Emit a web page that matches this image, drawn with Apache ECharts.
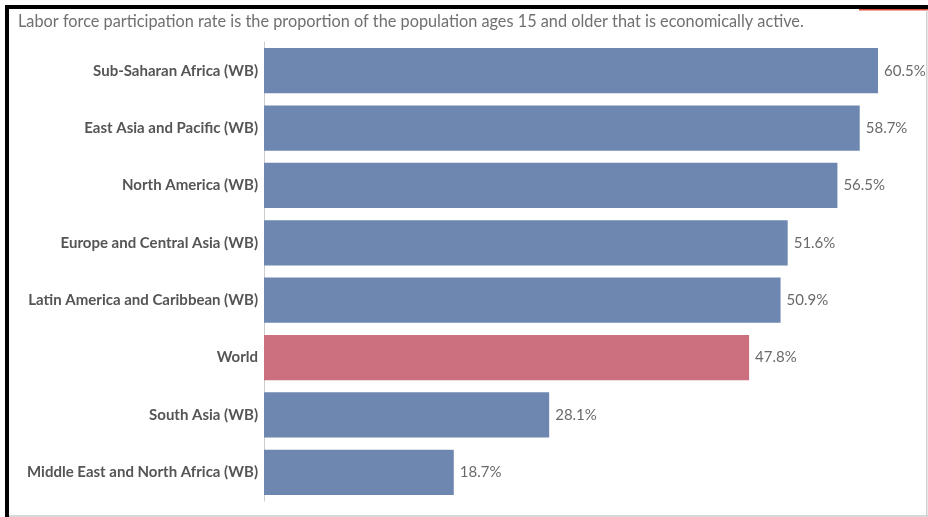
<!DOCTYPE html>
<html>
<head>
<meta charset="utf-8">
<script src="https://cdn.jsdelivr.net/npm/echarts@6/dist/echarts.min.js"></script>
<style>
html,body{margin:0;padding:0;background:#fff;}
#chart{width:928px;height:517px;}
</style>
</head>
<body>
<div id="chart"></div>
<script>
const titleText = 'Labor force participation rate is the proportion of the population ages 15 and older that is economically active.';
const categories = [
  'Sub-Saharan Africa (WB)',
  'East Asia and Pacific (WB)',
  'North America (WB)',
  'Europe and Central Asia (WB)',
  'Latin America and Caribbean (WB)',
  'World',
  'South Asia (WB)',
  'Middle East and North Africa (WB)'
];
const values = [60.5, 58.7, 56.5, 51.6, 50.9, 47.8, 28.1, 18.7];
const highlight = 'World';

const chart = echarts.init(document.getElementById('chart'), null, {renderer: 'canvas'});
const font = 'Lato, "Noto Sans", sans-serif';
chart.setOption({
  animation: false,
  backgroundColor: '#fff',
  title: {
    text: titleText,
    left: 13, top: 9,
    textStyle: {fontFamily: font, fontSize: 16.3, fontWeight: 'normal', color: '#707070'}
  },
  grid: {left: 264, right: 50, top: 42, height: 459, containLabel: false},
  xAxis: {
    type: 'value', min: 0, max: 60.5,
    show: false
  },
  yAxis: {
    type: 'category',
    data: categories,
    inverse: true,
    axisLine: {show: true, lineStyle: {color: '#cccccc', width: 1}},
    axisTick: {show: false},
    axisLabel: {fontFamily: font, fontSize: 15, fontWeight: 'bold', color: '#555555', margin: 6}
  },
  series: [{
    type: 'bar',
    data: values.map((v, i) => ({
      value: v,
      itemStyle: {color: categories[i] === highlight ? '#cc6f7f' : '#6e87b0'}
    })),
    barCategoryGap: '21%',
    label: {
      show: true, position: 'right', distance: 6,
      formatter: p => p.value.toFixed(1) + '%',
      fontFamily: font, fontSize: 15, color: '#6a6a6a'
    }
  }],
  graphic: [
    {type: 'rect', shape: {x: 5, y: 5, width: 923, height: 4}, style: {fill: '#000'}},
    {type: 'rect', shape: {x: 5, y: 5, width: 4, height: 512}, style: {fill: '#000'}},
    {type: 'rect', shape: {x: 859, y: 9, width: 69, height: 1.5}, style: {fill: '#e04a3a'}},
    {type: 'rect', shape: {x: 9, y: 515, width: 919, height: 2}, style: {fill: '#d8d8d8'}},
    {type: 'rect', shape: {x: 926, y: 10, width: 1.5, height: 507}, style: {fill: '#d0d0d0'}}
  ]
});
</script>
</body>
</html>
